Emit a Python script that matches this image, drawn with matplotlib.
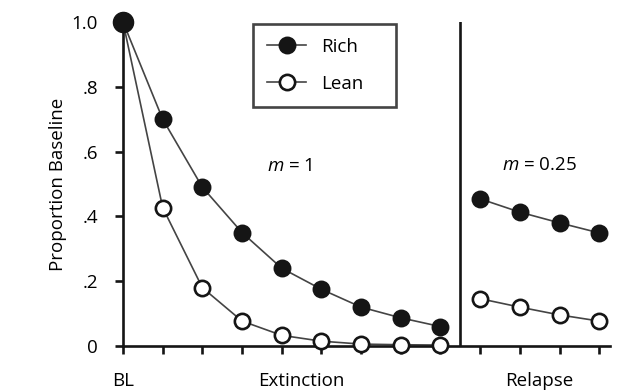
import matplotlib
matplotlib.use('Agg')
import matplotlib.pyplot as plt
from matplotlib.lines import Line2D
import numpy as np

# Session values (proportion of baseline response rate)
baseline = 1.0
rich_extinction = [0.70, 0.49, 0.35, 0.24, 0.175, 0.12, 0.087, 0.06]
lean_extinction = [0.427, 0.18, 0.077, 0.033, 0.015, 0.006, 0.004, 0.003]
rich_relapse = [0.454, 0.413, 0.38, 0.349]
lean_relapse = [0.146, 0.12, 0.096, 0.077]

ytick_values = [0, 0.2, 0.4, 0.6, 0.8, 1.0]
ytick_labels = ['0', '.2', '.4', '.6', '.8', '1.0']
group_labels = ['BL', 'Extinction', 'Relapse']

plt.rcParams['font.family'] = ['Open Sans', 'DejaVu Sans']
plt.rcParams['mathtext.fontset'] = 'custom'
plt.rcParams['mathtext.it'] = 'Open Sans:italic'
plt.rcParams['mathtext.rm'] = 'Open Sans'

fs = 13.5
ink = '#151515'
line_color = '#444444'
axis_lw = 1.9

# Positions: BL at 0, extinction sessions 1..8, relapse sessions 9..12
n_ext = len(rich_extinction)
n_rel = len(rich_relapse)
ext_x = np.arange(1, n_ext + 1)
rel_x = np.arange(n_ext + 1, n_ext + n_rel + 1)

fig = plt.figure(figsize=(6.18, 3.91), dpi=100)
ax = fig.add_axes([0.199, 0.115, 0.788, 0.829])

rich_style = dict(color=line_color, linewidth=1.2, marker='o', markersize=11,
                  markeredgewidth=1.9, markeredgecolor=ink, markerfacecolor=ink)
lean_style = dict(rich_style, markerfacecolor='white')
marker_only = ('color', 'linewidth')

# Lines from baseline into extinction
ax.plot(np.r_[0, ext_x], np.r_[baseline, rich_extinction], color=line_color,
        linewidth=1.2, zorder=2)
ax.plot(np.r_[0, ext_x], np.r_[baseline, lean_extinction], color=line_color,
        linewidth=1.2, zorder=2)
ax.plot(ext_x, rich_extinction, linestyle='none', zorder=3,
        **{k: v for k, v in rich_style.items() if k not in marker_only})
ax.plot(ext_x, lean_extinction, linestyle='none', zorder=3, clip_on=False,
        **{k: v for k, v in lean_style.items() if k not in marker_only})
ax.plot(rel_x, rich_relapse, zorder=3, **rich_style)
ax.plot(rel_x, lean_relapse, zorder=3, **lean_style)
# Baseline point
ax.plot([0], [baseline], marker='o', markersize=14.5, color=ink,
        zorder=4, clip_on=False)

# Phase separator
ax.axvline(n_ext + 0.5, color=ink, linewidth=axis_lw)

ax.text(4.2, 0.555, '$m$ = 1', fontsize=fs, ha='center', va='center')
ax.text(10.5, 0.56, '$m$ = 0.25', fontsize=fs, ha='center', va='center')

ax.set_xlim(0, 12.27)
ax.set_ylim(0, 1.0)
for side in ['top', 'right']:
    ax.spines[side].set_visible(False)
for side in ['left', 'bottom']:
    ax.spines[side].set_linewidth(axis_lw)
    ax.spines[side].set_color(ink)

major_x = np.arange(0, n_ext + n_rel + 1)
ax.set_xticks(major_x)
ax.set_xticklabels([group_labels[0]] + [''] * (len(major_x) - 1))
ax.set_xticks([(1 + n_ext) / 2, rel_x.mean()], minor=True)
ax.set_xticklabels(group_labels[1:], minor=True)
ax.tick_params(axis='x', which='major', direction='out', length=6,
               width=axis_lw, color=ink, pad=13, labelsize=fs)
ax.tick_params(axis='x', which='minor', length=0, pad=19, labelsize=fs)

ax.set_yticks(ytick_values)
ax.set_yticklabels(ytick_labels)
ax.tick_params(axis='y', direction='out', length=6, width=axis_lw, pad=12,
               labelsize=fs, color=ink)

ax.set_ylabel('Proportion Baseline', fontsize=fs)
ax.yaxis.set_label_coords(-0.115, 0.5)

handles = [Line2D([], [], **rich_style), Line2D([], [], **lean_style)]
leg = ax.legend(handles, ['Rich', 'Lean'], loc='upper left',
                bbox_to_anchor=(0.267, 0.744, 0.294, 0.25),
                mode='expand', fontsize=fs, frameon=True, fancybox=False,
                borderpad=0.75, labelspacing=1.0, handlelength=2.1,
                handletextpad=0.8, borderaxespad=0, numpoints=1)
leg.get_frame().set_edgecolor(ink)
leg.get_frame().set_linewidth(axis_lw)

fig.savefig('out.png', dpi=100)
